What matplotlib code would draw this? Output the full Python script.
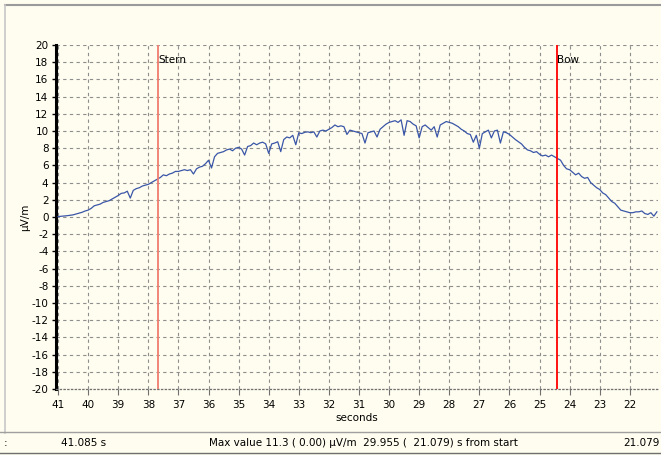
import numpy as np
import matplotlib
matplotlib.use("Agg")
from matplotlib import pyplot as plt
from matplotlib.lines import Line2D

# field strength, 10 samples per second, 41.0 s down to 21.1 s
field = [
    0.05, 0.08, 0.12, 0.15, 0.20, 0.25, 0.35, 0.45, 0.55, 0.70,   # 41
    0.80, 1.00, 1.30, 1.40, 1.50, 1.70, 1.80, 1.90, 2.10, 2.30,   # 40
    2.50, 2.75, 2.80, 3.00, 2.20, 3.10, 3.30, 3.40, 3.60, 3.70,   # 39
    3.80, 4.00, 4.20, 4.40, 4.60, 4.90, 4.80, 5.00, 5.10, 5.30,   # 38
    5.30, 5.40, 5.50, 5.40, 5.50, 5.00, 5.60, 5.80, 5.90, 6.20,   # 37
    6.60, 5.70, 7.00, 7.40, 7.50, 7.60, 7.80, 7.90, 7.70, 8.00,   # 36
    8.10, 7.90, 7.20, 8.20, 8.30, 8.60, 8.40, 8.60, 8.70, 8.50,   # 35
    7.40, 8.50, 8.60, 8.75, 7.60, 9.00, 9.30, 9.20, 9.50, 8.40,   # 34
    9.80, 9.70, 9.85, 9.90, 9.80, 9.90, 9.30, 10.0, 10.1, 10.0,   # 33
    10.2, 10.4, 10.7, 10.5, 10.6, 10.5, 9.60, 10.1, 10.0, 9.90,   # 32
    9.80, 9.70, 8.60, 9.80, 9.90, 10.0, 9.30, 10.2, 10.5, 10.8,   # 31
    11.0, 11.1, 11.2, 11.0, 11.3, 9.50, 11.2, 11.1, 10.8, 10.6,   # 30
    9.20, 10.5, 10.7, 10.4, 10.1, 10.5, 9.30, 10.7, 10.9, 11.1,   # 29
    11.0, 10.9, 10.7, 10.5, 10.2, 10.0, 9.70, 9.60, 8.70, 9.50,   # 28
    8.00, 9.70, 9.90, 10.1, 9.20, 10.0, 10.1, 8.60, 9.90, 9.80,   # 27
    9.60, 9.30, 9.00, 8.75, 8.50, 8.10, 7.80, 7.70, 7.50, 7.60,   # 26
    7.30, 7.10, 7.20, 7.00, 7.20, 7.00, 6.80, 6.60, 6.00, 5.60,   # 25
    5.50, 5.20, 4.90, 5.10, 4.70, 4.50, 4.60, 4.00, 3.70, 3.40,   # 24
    3.20, 2.80, 2.60, 2.20, 1.80, 1.60, 1.20, 0.80, 0.70, 0.60,   # 23
    0.50, 0.50, 0.60, 0.60, 0.70, 0.40, 0.30, 0.50, 0.10, 0.60,   # 22
]
t_start, t_end = 41.085, 21.079
seconds = np.linspace(41.0, 21.1, len(field))

markers = ["Stern", "Bow"]
marker_t = [37.68, 24.42]
marker_col = ["#F07C70", "#FF0000"]

x_ticks = list(range(41, 21, -1))
y_ticks = list(range(-20, 21, 2))

bg = "#FFFDEF"
plt.rcParams["font.family"] = ["DejaVu Sans"]
plt.rcParams["font.size"] = 7.5
plt.rcParams["axes.unicode_minus"] = False

fig = plt.figure(figsize=(6.61, 4.55), dpi=100, facecolor=bg)
ax = fig.add_axes([55.5 / 661, 66 / 455, 602 / 661, 344 / 455])
ax.set_facecolor(bg)

ax.plot(seconds, field, color="#3A56A8", linewidth=0.9, zorder=3)

for name, tm, c in zip(markers, marker_t, marker_col):
    ax.axvline(tm, color=c, linewidth=1.3, zorder=4)
    ax.text(tm, 18.2, name, ha="left", va="center", fontsize=7.5, zorder=5)

ax.set_xlim(t_start, t_end)
ax.set_ylim(-20, 20)
ax.set_xticks(x_ticks)
ax.set_yticks(y_ticks)
ax.grid(True, color="#8E8E8E", linestyle=(0, (3, 3)), linewidth=0.8)

for s in ["top", "right"]:
    ax.spines[s].set_visible(False)
ax.spines["left"].set_linewidth(2.2)
ax.spines["left"].set_color("black")
ax.spines["bottom"].set_linestyle((0, (1, 2)))
ax.spines["bottom"].set_color("#707070")
ax.spines["bottom"].set_linewidth(0.9)

ax.tick_params(axis="y", length=3, width=1, pad=2, colors="black")
ax.tick_params(axis="x", length=4, width=0.8, pad=4, color="#707070", labelcolor="black")

ax.set_xlabel("seconds", labelpad=2)
ax.set_ylabel("µV/m", labelpad=1)

# window frame and status bar
fig.add_artist(Line2D([5 / 661, 1], [450 / 455, 450 / 455], color="#9A9A9A", linewidth=1.5))
fig.add_artist(Line2D([5 / 661, 5 / 661], [22 / 455, 450 / 455], color="#C8C8C8", linewidth=1.2))
fig.add_artist(Line2D([0, 1], [23 / 455, 23 / 455], color="#A0A0A0", linewidth=1))
fig.add_artist(Line2D([0, 1], [2 / 455, 2 / 455], color="#707070", linewidth=1))

sy = 12 / 455
fig.text(4 / 661, sy, ":", ha="left", va="center")
fig.text(84 / 661, sy, "41.085 s", ha="center", va="center")
fig.text(209 / 661, sy, "Max value 11.3 ( 0.00) µV/m  29.955 (  21.079) s from start",
         ha="left", va="center")
fig.text(660 / 661, sy, "21.079", ha="right", va="center")

fig.savefig("out.png", dpi=100, facecolor=bg)
